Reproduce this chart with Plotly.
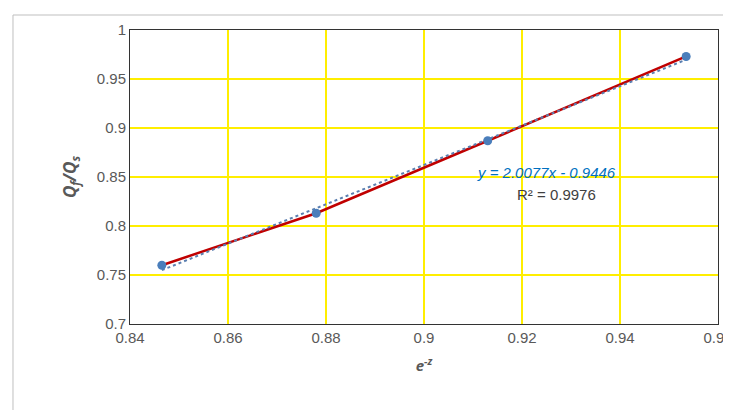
import plotly.graph_objects as go

x_vals = [0.8465, 0.878, 0.913, 0.9535]
y_vals = [0.760, 0.813, 0.887, 0.973]
slope = 2.0077
intercept = -0.9446

fig = go.Figure()
fig.add_trace(go.Scatter(x=x_vals, y=y_vals, mode="lines", line=dict(color="#C00000", width=2.5)))
trend_x = [x_vals[0], x_vals[-1]]
trend_y = [slope * v + intercept for v in trend_x]
fig.add_trace(go.Scatter(x=trend_x, y=trend_y, mode="lines", line=dict(color="#5B7FB0", width=2, dash="dot")))
fig.add_trace(go.Scatter(x=x_vals, y=y_vals, mode="markers", marker=dict(color="#4A7EBB", size=9)))

axis_common = dict(showgrid=True, gridcolor="#FFEE00", gridwidth=1.5, showline=True, linecolor="#333",
                   linewidth=1, mirror=True, tickfont=dict(family="Liberation Sans, Arial", size=15, color="#595959"),
                   zeroline=False, ticks="")
fig.update_xaxes(range=[0.84, 0.96], dtick=0.02, tickformat=".2~f", **axis_common,
                 title=dict(text="<b><i>e<sup>-z</sup></i></b>", font=dict(size=15, color="#595959")))
fig.update_yaxes(range=[0.7, 1.0], dtick=0.05, tickformat=".2~f", **axis_common,
                 title=dict(text="<b><i>Q<sub>f</sub>/Q<sub>s</sub></i></b>", font=dict(size=17, color="#595959")))

fig.add_annotation(x=0.925, y=0.855, text="<i>y = 2.0077x - 0.9446</i>", showarrow=False,
                   font=dict(family="Liberation Sans, Arial", size=15, color="#0070C0"))
fig.add_annotation(x=0.927, y=0.832, text="R² = 0.9976", showarrow=False,
                   font=dict(family="Liberation Sans, Arial", size=15, color="#404040"))

fig.add_shape(type="rect", xref="paper", yref="paper", x0=-0.199, x1=1.024, y0=-0.296, y1=1.051,
              line=dict(color="#BFBFBF", width=1))

fig.update_layout(width=731, height=410, showlegend=False, plot_bgcolor="white", paper_bgcolor="white",
                  margin=dict(l=122, r=21, t=22, b=94, autoexpand=False))
fig.write_html("out.html")
